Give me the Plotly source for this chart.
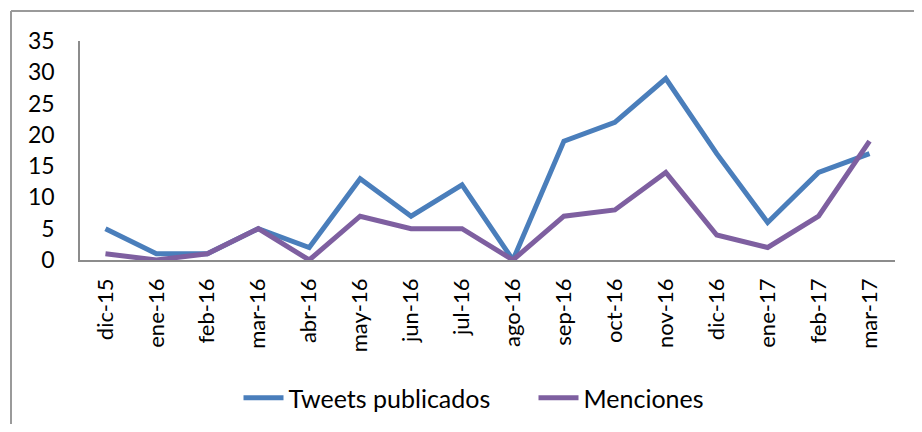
import plotly.graph_objects as go

meses = ["dic-15", "ene-16", "feb-16", "mar-16", "abr-16", "may-16", "jun-16", "jul-16",
         "ago-16", "sep-16", "oct-16", "nov-16", "dic-16", "ene-17", "feb-17", "mar-17"]
tweets = [5, 1, 1, 5, 2, 13, 7, 12, 0, 19, 22, 29, 17, 6, 14, 17]
menciones = [1, 0, 1, 5, 0, 7, 5, 5, 0, 7, 8, 14, 4, 2, 7, 19]
y_ticks = [0, 5, 10, 15, 20, 25, 30, 35]

FONT = "Lato"

fig = go.Figure()
fig.add_trace(go.Scatter(x=meses, y=tweets, mode="lines", name="Tweets publicados",
                         line=dict(color="#4A7EBB", width=5)))
fig.add_trace(go.Scatter(x=meses, y=menciones, mode="lines", name="Menciones",
                         line=dict(color="#7E5FA0", width=5)))

# page body has an 8px margin: work in figure coordinates = screen - 8
OFF = 8
W, H = 922 - 2 * OFF, 432 - 2 * OFF
L, T = 80 - OFF, 41 - OFF
R = W - (895 - OFF)
B = H - (260 - OFF)
pw, ph = W - L - R, H - T - B

def px(x):
    return (x - OFF - L) / pw

def py(y):
    return (H - B - (y - OFF)) / ph

fig.update_layout(
    width=W, height=H,
    margin=dict(l=L, r=R, t=T, b=B, autoexpand=False),
    paper_bgcolor="white", plot_bgcolor="white",
    font=dict(family=FONT, color="black"),
    showlegend=True,
    legend=dict(orientation="h", x=0.5 + 46 / pw, xanchor="center", y=py(398), yanchor="middle",
                font=dict(size=25, family=FONT), itemwidth=40, traceorder="normal",
                entrywidth=240),
    xaxis=dict(type="category", showgrid=False, showline=True, linecolor="#8C8C8C", linewidth=1.5,
               tickangle=-90, tickfont=dict(size=22), ticks="", ticklabelstandoff=8,
               range=[-0.5, len(meses) - 0.5], automargin=False),
    yaxis=dict(range=[0, 35], tickvals=y_ticks, showgrid=False, zeroline=False, showline=True,
               linecolor="#8C8C8C", linewidth=1.5, tickfont=dict(size=23), ticks="",
               ticklabelstandoff=19, automargin=False),
    shapes=[
        dict(type="line", xref="paper", yref="paper", x0=px(11), x1=px(940), y0=py(11), y1=py(11),
             line=dict(color="#9A9A9A", width=2)),
        dict(type="line", xref="paper", yref="paper", x0=px(11), x1=px(11), y0=py(11), y1=py(450),
             line=dict(color="#9A9A9A", width=2)),
    ],
)

fig.write_html("out.html")
